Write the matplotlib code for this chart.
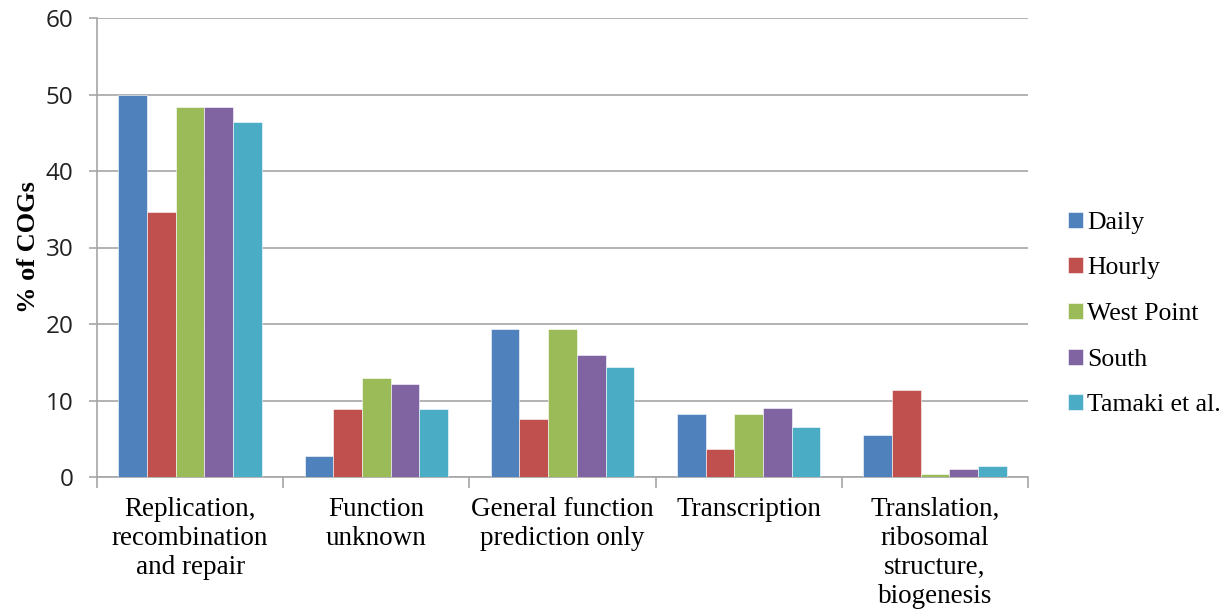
import numpy as np
import matplotlib
matplotlib.use("Agg")
import matplotlib.pyplot as plt

# COG category shares for each sample set
categories = ["Replication,\nrecombination\nand repair", "Function\nunknown",
              "General function\nprediction only", "Transcription",
              "Translation,\nribosomal\nstructure,\nbiogenesis"]
series_names = ["Daily", "Hourly", "West Point", "South", "Tamaki et al."]
daily = [50.0, 2.75, 19.4, 8.2, 5.5]
hourly = [34.7, 8.9, 7.6, 3.7, 11.4]
west_point = [48.4, 13.0, 19.3, 8.2, 0.35]
south = [48.4, 12.1, 15.9, 9.05, 1.0]
tamaki = [46.4, 8.9, 14.4, 6.5, 1.5]
colors = ["#4F81BD", "#C0504D", "#9BBB59", "#8064A2", "#4BACC6"]

values = [daily, hourly, west_point, south, tamaki]

fig = plt.figure(figsize=(12.28, 6.16), dpi=100)
ax = fig.add_axes([97 / 1228, 1 - 477 / 616, 931 / 1228, 459 / 616])

x = np.arange(len(categories))
width = 0.154
for i, (name, vals) in enumerate(zip(series_names, values)):
    ax.bar(x + (i - 2) * width, vals, width, color=colors[i], label=name,
           edgecolor="white", linewidth=0.4, zorder=3)

ax.set_xlim(-0.5, len(categories) - 0.5)
ax.set_ylim(0, 60)
ax.set_yticks(range(0, 61, 10))
ax.yaxis.grid(True, color="#a6a6a6", linewidth=1.2, zorder=0)
ax.tick_params(axis="y", labelsize=17.5, colors="#a6a6a6", length=6, width=1.2,
               labelcolor="#222222", pad=11)
for lbl in ax.get_yticklabels():
    lbl.set_fontfamily("Open Sans")

# category boundaries as ticks, labels centred under each group
ax.set_xticks(np.arange(-0.5, len(categories), 1.0))
ax.set_xticklabels([])
ax.tick_params(axis="x", length=8, width=1.2, colors="#a6a6a6")
for xi, cat in zip(x, categories):
    ax.text(xi, -2.6, cat, ha="center", va="top", fontsize=19.5,
            family="Liberation Serif", linespacing=1.22, color="black")

for side in ["top", "right"]:
    ax.spines[side].set_visible(False)
ax.spines["left"].set_color("#a6a6a6")
ax.spines["bottom"].set_color("#a6a6a6")
ax.spines["left"].set_linewidth(1.2)
ax.spines["bottom"].set_linewidth(1.2)

ax.set_ylabel("% of COGs", fontsize=19, family="Liberation Serif",
              fontweight="bold", labelpad=4)

ax.legend(loc="center left", bbox_to_anchor=(1.043, 0.355), frameon=False,
          prop={"family": "Liberation Serif", "size": 18.5},
          handlelength=0.58, handleheight=0.58, handletextpad=0.15,
          labelspacing=0.92, borderaxespad=0, borderpad=0)

fig.savefig("out.png", dpi=100)
